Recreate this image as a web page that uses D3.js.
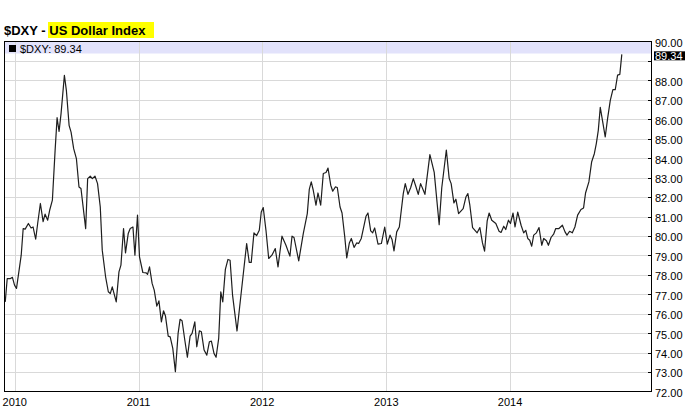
<!DOCTYPE html>
<html><head><meta charset="utf-8">
<script src="https://cdn.jsdelivr.net/npm/d3@7"></script>
<style>
html,body{margin:0;padding:0;background:#fff;}
svg{display:block;font-family:"Liberation Sans",Arial,Helvetica,sans-serif;}
</style></head>
<body>
<svg id="chart" width="689" height="408"></svg>
<script>
const titleSymbol = "$DXY - ";
const titleName = "US Dollar Index";
const seriesName = "$DXY";
const lastValue = 89.34;
const yTicks = [73,74,75,76,77,78,79,80,81,82,83,84,85,86,87,88,89,90];
const yearLabels = [2010,2011,2012,2013,2014];
const xDomain = [2009.917, 2015.143];
const yDomain = [72, 90];
const times = [
2009.923,2009.939,2009.965,2009.981,2009.998,2010.014,2010.035,2010.052,2010.068,2010.084,
2010.110,2010.132,2010.148,2010.169,2010.185,2010.207,2010.229,2010.245,2010.266,2010.282,
2010.304,2010.326,2010.342,2010.358,2010.374,2010.401,2010.417,2010.439,2010.455,2010.476,
2010.498,2010.519,2010.535,2010.573,2010.589,2010.610,2010.627,2010.648,2010.669,2010.691,
2010.707,2010.734,2010.756,2010.772,2010.788,2010.820,2010.842,2010.858,2010.879,2010.895,
2010.917,2010.933,2010.955,2010.971,2010.992,2011.008,2011.035,2011.062,2011.073,2011.089,
2011.110,2011.127,2011.148,2011.165,2011.185,2011.202,2011.218,2011.240,2011.256,2011.277,
2011.298,2011.320,2011.336,2011.352,2011.374,2011.395,2011.417,2011.433,2011.455,2011.471,
2011.492,2011.508,2011.530,2011.552,2011.573,2011.589,2011.610,2011.627,2011.648,2011.665,
2011.681,2011.702,2011.723,2011.740,2011.760,2011.796,2011.828,2011.874,2011.895,2011.911,
2011.933,2011.955,2011.976,2011.992,2012.008,2012.030,2012.052,2012.078,2012.105,2012.127,
2012.159,2012.191,2012.223,2012.240,2012.256,2012.294,2012.331,2012.363,2012.379,2012.395,
2012.411,2012.433,2012.449,2012.471,2012.492,2012.514,2012.530,2012.552,2012.568,2012.589,
2012.605,2012.627,2012.643,2012.665,2012.681,2012.702,2012.718,2012.740,2012.761,2012.777,
2012.798,2012.815,2012.836,2012.852,2012.874,2012.890,2012.906,2012.933,2012.960,2012.987,
2013.008,2013.030,2013.046,2013.062,2013.084,2013.105,2013.137,2013.153,2013.175,2013.197,
2013.218,2013.240,2013.258,2013.277,2013.312,2013.352,2013.387,2013.427,2013.448,2013.485,
2013.508,2013.524,2013.546,2013.562,2013.584,2013.621,2013.643,2013.659,2013.675,2013.697,
2013.734,2013.756,2013.777,2013.794,2013.815,2013.831,2013.852,2013.885,2013.911,2013.927,
2013.949,2013.965,2013.987,2014.003,2014.024,2014.040,2014.062,2014.089,2014.110,2014.127,
2014.143,2014.159,2014.175,2014.191,2014.213,2014.234,2014.256,2014.272,2014.294,2014.310,
2014.331,2014.352,2014.369,2014.395,2014.423,2014.444,2014.460,2014.481,2014.503,2014.524,
2014.546,2014.573,2014.594,2014.610,2014.637,2014.659,2014.681,2014.697,2014.713,2014.729,
2014.769,2014.788,2014.810,2014.831,2014.850,2014.869,2014.887,2014.903
];
const values = [
76.61,77.81,77.81,77.87,77.47,77.30,78.24,79.01,80.38,80.35,
80.64,80.41,80.46,79.83,80.64,81.67,80.74,81.12,80.81,81.32,
81.84,84.40,86.08,85.38,86.29,88.26,87.49,85.69,85.34,84.49,
83.98,82.52,82.44,80.38,82.95,83.07,82.95,83.08,82.69,81.49,
79.27,77.90,77.13,77.04,77.38,76.61,78.15,78.50,80.38,79.13,
80.13,80.38,80.46,79.01,81.07,78.92,78.12,78.10,78.02,78.41,
77.56,77.21,76.39,76.66,75.58,76.15,75.88,74.85,74.81,74.22,
73.02,74.99,75.71,75.64,74.65,73.76,74.85,74.99,75.58,74.30,
75.12,75.07,74.13,73.87,74.56,74.59,73.96,73.76,74.73,77.13,
76.61,78.28,78.79,78.75,76.96,75.11,76.96,79.61,78.64,78.64,
80.16,80.02,80.29,81.23,81.46,80.29,78.84,79.01,79.35,78.41,
79.99,79.52,78.96,79.99,79.92,78.72,80.13,81.15,82.39,82.78,
82.35,81.58,82.21,81.58,83.21,83.26,83.49,82.61,82.30,82.52,
82.49,81.49,81.18,79.95,78.87,79.64,79.87,79.41,79.64,79.61,
79.87,80.38,81.01,81.18,80.26,80.16,80.41,79.58,79.61,80.46,
79.58,80.04,79.82,79.23,80.21,80.46,82.18,82.69,82.14,82.49,
82.95,82.52,82.14,82.69,82.14,84.18,83.27,80.58,82.48,84.42,
82.95,82.69,81.70,81.89,81.15,81.41,82.00,82.18,81.58,80.43,
80.16,80.43,79.64,79.22,80.77,81.18,80.81,80.64,80.24,80.18,
80.50,80.33,80.81,80.64,81.18,80.46,81.23,80.55,80.16,80.29,
79.87,79.78,79.47,80.04,80.16,80.43,79.52,79.87,79.75,79.52,
79.92,80.09,80.38,80.38,80.55,80.21,80.04,80.24,80.16,80.46,
81.07,81.36,81.44,82.21,82.78,83.80,84.23,84.75,85.43,86.61,
85.09,86.03,86.97,87.52,87.52,88.27,88.31,89.34
];

function toDate(t){
  const y = Math.floor(t), f = t - y;
  const a = Date.UTC(y,0,1), b = Date.UTC(y+1,0,1);
  return new Date(a + f*(b-a));
}
const data = times.map((t,i)=>({date:toDate(t), value:values[i]}));

const L = 4.5, R = 651.5, T = 41.5, B = 391.5;
const svg = d3.select("#chart");
const x = d3.scaleUtc().domain(xDomain.map(toDate)).range([L, R]);
const y = d3.scaleLinear().domain(yDomain).range([B, T]);

// title
const title = svg.append("g");
title.append("rect").attr("x",48).attr("y",22).attr("width",106).attr("height",16).attr("fill","#ffff00");
const tt = title.append("text").attr("x",4).attr("y",34.5).attr("font-size",13).attr("font-weight","bold").attr("fill","#000");
tt.append("tspan").text(titleSymbol);
tt.append("tspan").text(titleName);

// legend band
svg.append("rect").attr("x",L).attr("y",T).attr("width",R-L).attr("height",12).attr("fill","#e2e2fb");

// grid
const grid = svg.append("g").attr("stroke","#d9d9d9").attr("stroke-width",1).attr("shape-rendering","crispEdges");
grid.selectAll("line.h").data(yTicks.filter(v=>v<90)).join("line")
  .attr("x1",L).attr("x2",R-4)
  .attr("y1",d=>Math.round(y(d))+0.5).attr("y2",d=>Math.round(y(d))+0.5);
grid.selectAll("line.v").data(yearLabels).join("line")
  .attr("x1",d=>Math.round(x(Date.UTC(d,0,1)))+0.5).attr("x2",d=>Math.round(x(Date.UTC(d,0,1)))+0.5)
  .attr("y1",T).attr("y2",B);

// legend content (over grid)
svg.append("rect").attr("x",L).attr("y",T+0.5).attr("width",R-L).attr("height",11.5).attr("fill","#e2e2fb").attr("opacity",0.0);
svg.append("rect").attr("x",9).attr("y",45).attr("width",7).attr("height",7).attr("fill","#000");
svg.append("text").attr("x",20).attr("y",52.5).attr("font-size",11).attr("fill","#000").text(seriesName + ": " + lastValue.toFixed(2));

// line
const line = d3.line().x(d=>x(d.date)).y(d=>y(d.value));
svg.append("path").datum(data).attr("d",line).attr("fill","none").attr("stroke","#1e1e1e").attr("stroke-width",1.2).attr("stroke-linejoin","round");

// frame
svg.append("rect").attr("x",L).attr("y",T).attr("width",R-L).attr("height",B-T)
  .attr("fill","none").attr("stroke","#000").attr("stroke-width",1).attr("shape-rendering","crispEdges");

// right axis
const yAxis = d3.axisRight(y).tickValues(yTicks.concat([72])).tickSize(0).tickFormat(d=>d.toFixed(2));
const ax = svg.append("g").attr("transform",`translate(${R},0)`);
ax.selectAll("line.tk").data(yTicks.filter(v=>v<90)).join("line")
  .attr("x1",-4).attr("x2",0)
  .attr("y1",d=>Math.round(y(d))+0.5).attr("y2",d=>Math.round(y(d))+0.5)
  .attr("stroke","#000").attr("shape-rendering","crispEdges");
ax.selectAll("text.lb").data(yTicks.concat([72]).filter(v=>v!==89)).join("text")
  .attr("x",3.5).attr("y",d=>y(d)+5.4)
  .attr("font-size",11).attr("fill","#000").text(d=>d.toFixed(2));
// last value tag
ax.append("rect").attr("x",2.5).attr("y",y(lastValue)-3).attr("width",31).attr("height",9).attr("fill","#000");
ax.append("text").attr("x",3.5).attr("y",y(lastValue)+5.4).attr("font-size",11).attr("fill","#fff").text(lastValue.toFixed(2));

// x labels
svg.append("g").selectAll("text").data(yearLabels).join("text")
  .attr("x",d=>x(Date.UTC(d,0,1))).attr("y",406)
  .attr("text-anchor","middle").attr("font-size",11).attr("fill","#000").text(d=>d);
</script>
</body></html>
